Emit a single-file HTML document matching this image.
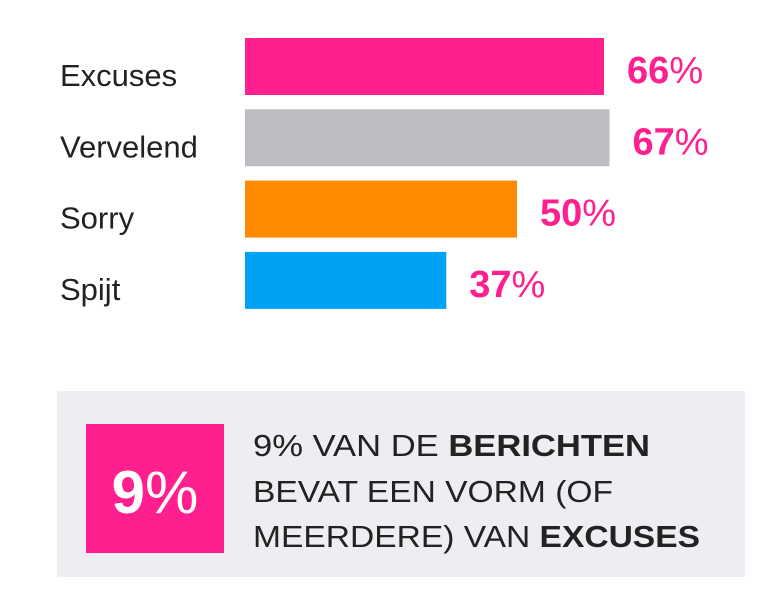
<!DOCTYPE html>
<html><head><meta charset="utf-8"><style>
html,body{margin:0;padding:0;background:#fff;}
svg{display:block;font-family:"Liberation Sans",sans-serif;}
</style></head><body>
<svg id="chart" width="766" height="590" viewBox="0 0 766 590" xmlns="http://www.w3.org/2000/svg">
<g id="bars"></g>
<g>
<rect x="57" y="391" width="688" height="186" fill="#efedf1"/>
<rect x="86" y="424" width="138" height="129" fill="#ff1f8e"/>
<text x="155" y="513" text-anchor="middle" fill="#fff" font-size="60"><tspan font-weight="bold">9</tspan><tspan>%</tspan></text>
<text x="253" y="456" font-size="31" fill="#222" textLength="397" lengthAdjust="spacingAndGlyphs">9% VAN DE <tspan font-weight="bold">BERICHTEN</tspan></text>
<text x="253" y="502" font-size="31" fill="#222" textLength="360" lengthAdjust="spacingAndGlyphs">BEVAT EEN VORM (OF</text>
<text x="253" y="547" font-size="31" fill="#222" textLength="447" lengthAdjust="spacingAndGlyphs">MEERDERE) VAN <tspan font-weight="bold">EXCUSES</tspan></text>
</g>
</svg>
<script>
const categories = ["Excuses", "Vervelend", "Sorry", "Spijt"];
const values = [66, 67, 50, 37];
const colors = ["#ff1f8e", "#bdbcc1", "#ff8a00", "#00a2f5"];
const NS = "http://www.w3.org/2000/svg";
const x0 = 245, pxPer = 5.44;
function xScale(v){ return x0 + v * pxPer; }
function yScale(i){ return 38 + i * 71.3; }
const g = document.getElementById("bars");
categories.forEach((c, i) => {
  const y = yScale(i);
  const r = document.createElementNS(NS, "rect");
  
  
  r.setAttribute("x", x0); r.setAttribute("y", y);
  r.setAttribute("width", xScale(values[i]) - x0); r.setAttribute("height", 57);
  r.setAttribute("fill", colors[i]);
  g.appendChild(r);
  const t = document.createElementNS(NS, "text");
  
  
  t.setAttribute("x", 60); t.setAttribute("y", y + 48);
  t.setAttribute("font-size", "31"); t.setAttribute("fill", "#222");
  t.textContent = c;
  g.appendChild(t);
  const v = document.createElementNS(NS, "text");
  
  
  v.setAttribute("x", xScale(values[i]) + 23); v.setAttribute("y", y + 45);
  v.setAttribute("font-size", "38"); v.setAttribute("fill", "#ff1f8e");
  const b = document.createElementNS(NS, "tspan");
  b.setAttribute("font-weight", "bold"); b.textContent = values[i];
  const p = document.createElementNS(NS, "tspan");
  p.textContent = "%";
  v.appendChild(b); v.appendChild(p);
  g.appendChild(v);
});
</script>
</body></html>
